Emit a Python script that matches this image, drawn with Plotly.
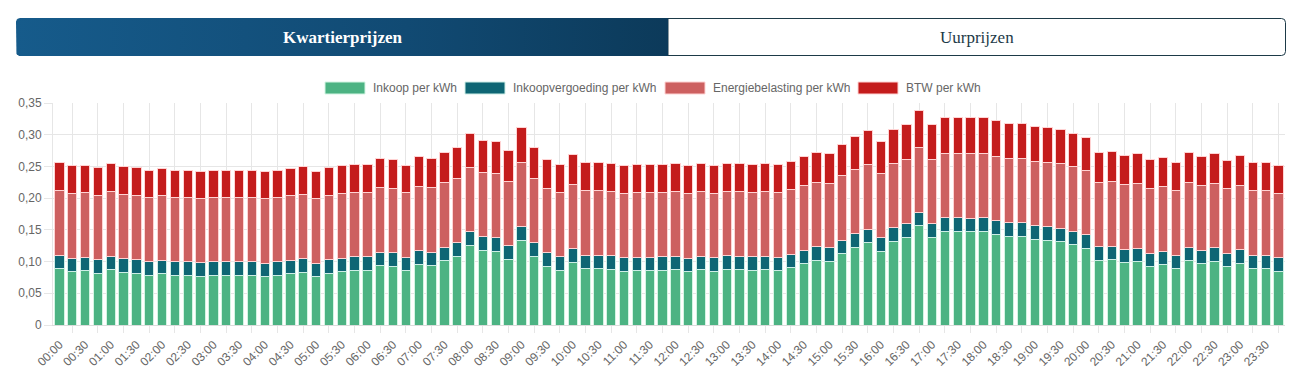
import math
import plotly.graph_objects as go

# ---------------- data ----------------
TIMES = [f"{h:02d}:{m:02d}" for h in range(24) for m in (0, 15, 30, 45)]

INKOOP = [
    0.0890, 0.0842, 0.0853, 0.0816, 0.0874, 0.0832, 0.0816, 0.0784,
    0.0810, 0.0784, 0.0784, 0.0768, 0.0784, 0.0784, 0.0784, 0.0784,
    0.0763, 0.0784, 0.0805, 0.0832, 0.0763, 0.0816, 0.0842, 0.0863,
    0.0863, 0.0937, 0.0926, 0.0853, 0.0958, 0.0937, 0.1016, 0.1084,
    0.1258, 0.1179, 0.1163, 0.1037, 0.1337, 0.1084, 0.0926, 0.0863,
    0.0989, 0.0890, 0.0884, 0.0879, 0.0847, 0.0858, 0.0858, 0.0863,
    0.0874, 0.0842, 0.0874, 0.0847, 0.0879, 0.0874, 0.0863, 0.0874,
    0.0858, 0.0905, 0.0963, 0.1020, 0.1005, 0.1126, 0.1226, 0.1300,
    0.1163, 0.1321, 0.1384, 0.1563, 0.1384, 0.1479, 0.1479, 0.1468,
    0.1479, 0.1432, 0.1400, 0.1400, 0.1353, 0.1337, 0.1311, 0.1268,
    0.1211, 0.1021, 0.1032, 0.0979, 0.1000, 0.0921, 0.0947, 0.0890,
    0.1016, 0.0963, 0.1005, 0.0916, 0.0974, 0.0890, 0.0890, 0.0847,
]
INKOOPVERGOEDING = [0.0212] * 96
ENERGIEBELASTING = [0.1019] * 96
BTW = [
    0.0445, 0.0435, 0.0438, 0.0430, 0.0442, 0.0433, 0.0430, 0.0423,
    0.0429, 0.0423, 0.0423, 0.0420, 0.0423, 0.0423, 0.0423, 0.0423,
    0.0419, 0.0423, 0.0428, 0.0433, 0.0419, 0.0430, 0.0435, 0.0440,
    0.0440, 0.0455, 0.0453, 0.0438, 0.0460, 0.0455, 0.0472, 0.0486,
    0.0523, 0.0506, 0.0503, 0.0476, 0.0539, 0.0486, 0.0453, 0.0440,
    0.0466, 0.0445, 0.0444, 0.0443, 0.0436, 0.0439, 0.0439, 0.0440,
    0.0442, 0.0435, 0.0442, 0.0436, 0.0443, 0.0442, 0.0440, 0.0442,
    0.0439, 0.0449, 0.0461, 0.0473, 0.0470, 0.0495, 0.0516, 0.0532,
    0.0503, 0.0536, 0.0549, 0.0587, 0.0549, 0.0569, 0.0569, 0.0567,
    0.0569, 0.0559, 0.0553, 0.0553, 0.0543, 0.0539, 0.0534, 0.0525,
    0.0513, 0.0473, 0.0475, 0.0464, 0.0469, 0.0452, 0.0457, 0.0445,
    0.0472, 0.0461, 0.0470, 0.0451, 0.0463, 0.0445, 0.0445, 0.0436,
]

SERIES_NAMES = ["Inkoop per kWh", "Inkoopvergoeding per kWh",
                "Energiebelasting per kWh", "BTW per kWh"]
Y_TICKS = [0, 0.05, 0.10, 0.15, 0.20, 0.25, 0.30, 0.35]
Y_TICK_TEXT = ["0", "0,05", "0,10", "0,15", "0,20", "0,25", "0,30", "0,35"]
X_TICK_LABELS = TIMES[::2]
TAB_LABELS = ["Kwartierprijzen", "Uurprijzen"]

# ---------------- styling ----------------
COLORS = ["#4cb383", "#0e6674", "#cd6060", "#c41c1c"]
BORDERS = ["#d3f5e3", "#cdeee6", "#ffd3d3", "#ffd3d3"]
GRID = "#e6e6e6"
TXT = "#666666"
FONT = "Liberation Sans, Arial, sans-serif"

W, H = 1301, 381


def px(x):
    return x / W


def py(y):
    return 1 - y / H


fig = go.Figure()

series = [INKOOP, INKOOPVERGOEDING, ENERGIEBELASTING, BTW]
for name, vals, col, bcol in zip(SERIES_NAMES, series, COLORS, BORDERS):
    fig.add_trace(go.Bar(
        x=TIMES, y=vals, name=name, showlegend=False,
        marker=dict(color=col, line=dict(color=bcol, width=1)),
        hovertemplate="%{x}: %{y:.4f}<extra>" + name + "</extra>",
    ))

# overlay axis carrying the offset gridlines / tick marks
fig.add_trace(go.Scatter(x=[None], y=[None], xaxis="x3", yaxis="y",
                         showlegend=False, hoverinfo="skip", mode="markers"))

# active tab with horizontal gradient (own subplot in pixel units)
tw, th, r = 652, 38, 4
pts = [(tw, 0), (tw, th)]
for k in range(0, 11):
    a = math.pi / 2 + k * (math.pi / 2) / 10
    pts.append((r + r * math.cos(a), th - r + r * math.sin(a)))
for k in range(0, 11):
    a = math.pi + k * (math.pi / 2) / 10
    pts.append((r + r * math.cos(a), r + r * math.sin(a)))
pts.append((tw, 0))
fig.add_trace(go.Scatter(
    x=[p[0] for p in pts], y=[p[1] for p in pts], xaxis="x2", yaxis="y2",
    mode="lines", line=dict(width=0), fill="toself",
    fillgradient=dict(type="horizontal",
                      colorscale=[[0, "#165b8b"], [0.6, "#114a73"], [1, "#0c3a5a"]]),
    showlegend=False, hoverinfo="skip",
))

shapes = []
annotations = []

# inactive tab outline
x0, x1, y0, y1 = 668, 1285.5, 18.5, 55.5
rr = 4
path = (f"M {px(x0)},{py(y0)} L {px(x1 - rr)},{py(y0)} "
        f"Q {px(x1)},{py(y0)} {px(x1)},{py(y0 + rr)} "
        f"L {px(x1)},{py(y1 - rr)} Q {px(x1)},{py(y1)} {px(x1 - rr)},{py(y1)} "
        f"L {px(x0)},{py(y1)} Z")
shapes.append(dict(type="path", xref="paper", yref="paper", path=path,
                   line=dict(color="#1d3a48", width=1), fillcolor="white", layer="below"))

annotations.append(dict(text="<b>" + TAB_LABELS[0] + "</b>", x=px(342), y=py(37),
                        xref="paper", yref="paper", showarrow=False,
                        xanchor="center", yanchor="middle",
                        font=dict(family="Liberation Serif, serif", size=17, color="white")))
annotations.append(dict(text=TAB_LABELS[1], x=px(977), y=py(37),
                        xref="paper", yref="paper", showarrow=False,
                        xanchor="center", yanchor="middle",
                        font=dict(family="Liberation Serif, serif", size=17, color="#1d3a48")))

# custom legend (Chart.js style wide boxes)
legend_x = [325, 465, 665, 858]
for lx, name, col, bcol in zip(legend_x, SERIES_NAMES, COLORS, BORDERS):
    shapes.append(dict(type="rect", xref="paper", yref="paper",
                       x0=px(lx), x1=px(lx + 40), y0=py(94), y1=py(82),
                       fillcolor=col, line=dict(color=bcol, width=1)))
    annotations.append(dict(text=name, x=px(lx + 46), y=py(88), xref="paper", yref="paper",
                            xanchor="left", yanchor="middle", showarrow=False,
                            font=dict(family=FONT, size=12, color=TXT)))

fig.update_layout(
    width=W, height=H, autosize=False,
    margin=dict(l=0, r=0, t=0, b=0, pad=0),
    paper_bgcolor="white", plot_bgcolor="white",
    barmode="stack", bargap=0.28,
    font=dict(family=FONT, size=12, color=TXT),
    showlegend=False,
    shapes=shapes, annotations=annotations,
    xaxis=dict(type="category", domain=[px(53), px(1285)], range=[-0.5, 95.5],
               tickmode="array", tickvals=X_TICK_LABELS, ticktext=X_TICK_LABELS,
               tickangle=-45, ticks="outside", ticklen=7, tickcolor="rgba(0,0,0,0)",
               showgrid=False, showline=True, linecolor="#dcdcdc", zeroline=False,
               tickfont=dict(family=FONT, size=12, color=TXT), automargin=False,
               fixedrange=True),
    xaxis3=dict(overlaying="x", anchor="y", range=[-0.5, 95.5],
                tickmode="array", tickvals=list(range(1, 96, 2)),
                ticks="outside", ticklen=7, tickcolor=GRID,
                showgrid=True, gridcolor=GRID, gridwidth=1,
                showticklabels=False, zeroline=False, showline=False,
                automargin=False, fixedrange=True),
    yaxis=dict(domain=[py(325), py(103)], range=[0, 0.35],
               tickmode="array", tickvals=Y_TICKS, ticktext=Y_TICK_TEXT,
               ticks="outside", ticklen=8, tickcolor=GRID,
               showgrid=True, gridcolor=GRID, showline=True, linecolor=GRID,
               zeroline=False, tickfont=dict(family=FONT, size=12, color=TXT),
               automargin=False, fixedrange=True),
    xaxis2=dict(domain=[px(16), px(668)], range=[0, 652], visible=False,
                fixedrange=True, anchor="y2"),
    yaxis2=dict(domain=[py(56), py(18)], range=[0, 38], visible=False,
                fixedrange=True, anchor="x2"),
)

fig.write_html("out.html", config={"displayModeBar": False},
               post_script="document.body.style.margin='0';document.body.style.overflow='hidden';")
